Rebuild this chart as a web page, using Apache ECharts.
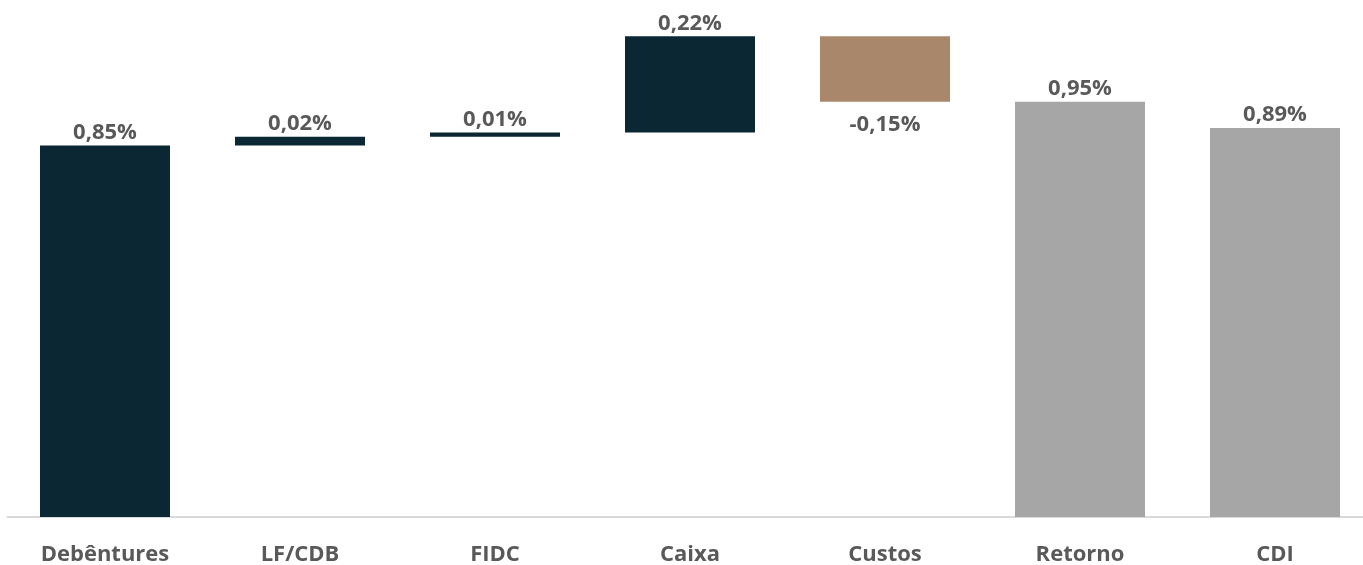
<!DOCTYPE html>
<html>
<head>
<meta charset="utf-8">
<script src="https://cdn.jsdelivr.net/npm/echarts@6/dist/echarts.min.js"></script>
<style>
  html, body { margin: 0; padding: 0; background: #fff; }
  #chart { width: 1363px; height: 565px; }
</style>
</head>
<body>
<div id="chart"></div>
<script>
// dados do gráfico (%)
var categorias = ['Debêntures', 'LF/CDB', 'FIDC', 'Caixa', 'Custos', 'Retorno', 'CDI'];
var valores = [0.85, 0.02, 0.01, 0.22, -0.15, 0.95, 0.89];
var totais = [false, false, false, false, false, true, true];

var corPositivo = '#0A2733';
var corNegativo = '#A8876A';
var corTotal = '#A6A6A6';

// monta base invisível + barra visível (cascata)
var base = [];
var barras = [];
var acumulado = 0;
for (var i = 0; i < valores.length; i++) {
  var v = valores[i];
  var cor, ini;
  if (totais[i]) {
    ini = 0;
    cor = corTotal;
  } else if (v >= 0) {
    ini = acumulado;
    acumulado += v;
    cor = corPositivo;
  } else {
    acumulado += v;
    ini = acumulado;
    cor = corNegativo;
  }
  base.push(ini);
  barras.push({
    value: Math.abs(v),
    itemStyle: { color: cor },
    label: {
      position: v < 0 ? 'bottom' : 'top',
      distance: v < 0 ? 12 : 2
    }
  });
}

function fmt(v) {
  return v.toFixed(2).replace('.', ',') + '%';
}

var chart = echarts.init(document.getElementById('chart'));
var option = {
  animation: false,
  grid: { left: 7.5, width: 1365, top: 36.3, bottom: 48, outerBoundsMode: 'none' },
  xAxis: {
    type: 'category',
    data: categorias,
    axisTick: { show: false },
    axisLine: { lineStyle: { color: '#D9D9D9', width: 2 } },
    axisLabel: {
      color: '#595959',
      fontSize: 22,
      fontWeight: 'bold',
      fontFamily: 'Open Sans',
      margin: 27
    }
  },
  yAxis: {
    type: 'value',
    min: 0,
    max: 1.1,
    show: false
  },
  series: [
    {
      type: 'bar',
      stack: 'cascata',
      data: base,
      itemStyle: { color: 'transparent' },
      silent: true
    },
    {
      type: 'bar',
      stack: 'cascata',
      data: barras,
      barWidth: 130,
      label: {
        show: true,
        color: '#595959',
        fontSize: 22,
        fontWeight: 'bold',
        fontFamily: 'Open Sans',
        formatter: function (p) { return fmt(valores[p.dataIndex]); }
      }
    }
  ]
};
chart.setOption(option);
</script>
</body>
</html>
